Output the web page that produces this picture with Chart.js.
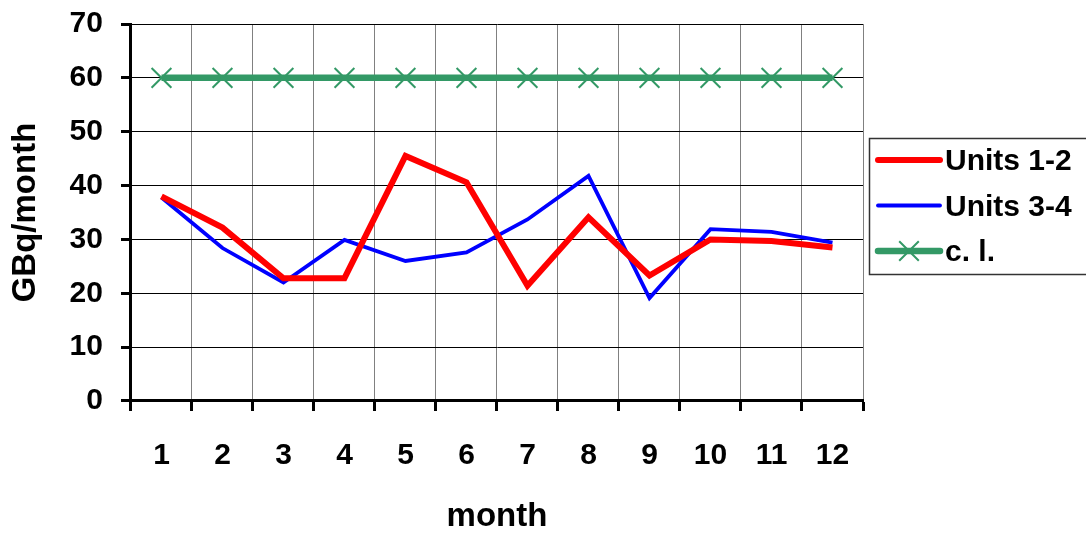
<!DOCTYPE html>
<html lang="en">
<head>
    <meta charset="UTF-8">
    <title>GBq/month</title>
    <script src="https://cdn.jsdelivr.net/npm/chart.js"></script>
    <style>
        html, body { margin: 0; padding: 0; background: #fff; }
        .chart-container { width: 1086px; height: 533px; }
    </style>
</head>
<body>
    <div class="chart-container">
        <canvas id="myChart"></canvas>
    </div>

    <script>
        // datos
        const months = ['1', '2', '3', '4', '5', '6', '7', '8', '9', '10', '11', '12'];
        const units12 = [38.0, 32.2, 22.8, 22.8, 45.5, 40.6, 21.4, 34.1, 23.3, 30.0, 29.7, 28.5];
        const units34 = [37.8, 28.4, 22.0, 29.9, 26.0, 27.6, 33.7, 41.8, 19.1, 31.9, 31.4, 29.4];
        const limit = [60, 60, 60, 60, 60, 60, 60, 60, 60, 60, 60, 60];
        const yTicks = [0, 10, 20, 30, 40, 50, 60, 70];

        const fontFamily = '"Liberation Sans", Arial, sans-serif';

        // leyenda con recuadro, dibujada a mano a la derecha
        const boxLegend = {
            id: 'boxLegend',
            afterDraw(chart) {
                const ctx = chart.ctx;
                const left = chart.chartArea.right + 6;
                const top = 138;
                ctx.save();
                ctx.strokeStyle = '#333';
                ctx.lineWidth = 1.5;
                ctx.strokeRect(left + 0.5, top + 0.5, 240, 136);
                ctx.font = 'bold 30px ' + fontFamily;
                ctx.textBaseline = 'middle';
                ctx.fillStyle = '#000';
                chart.data.datasets.forEach((ds, i) => {
                    const y = top + 22 + i * 45.5;
                    ctx.beginPath();
                    ctx.strokeStyle = ds.borderColor;
                    ctx.lineWidth = ds.borderWidth;
                    ctx.lineCap = 'round';
                    ctx.moveTo(left + 9, y);
                    ctx.lineTo(left + 71, y);
                    ctx.stroke();
                    if (ds.pointRadius > 0) {
                        const r = ds.pointRadius * 0.7;
                        const cx = left + 40;
                        ctx.lineWidth = ds.pointBorderWidth;
                        ctx.lineCap = 'butt';
                        ctx.beginPath();
                        ctx.moveTo(cx - r, y - r); ctx.lineTo(cx + r, y + r);
                        ctx.moveTo(cx - r, y + r); ctx.lineTo(cx + r, y - r);
                        ctx.stroke();
                    }
                    ctx.fillText(ds.label, left + 76, y + 2);
                });
                ctx.restore();
            }
        };

        const chartData = {
            labels: months,
            datasets: [{
                label: 'Units 1-2',
                data: units12,
                borderColor: '#ff0000',
                backgroundColor: '#ff0000',
                borderWidth: 6,
                pointRadius: 0,
                tension: 0
            }, {
                label: 'Units 3-4',
                data: units34,
                borderColor: '#0000ff',
                backgroundColor: '#0000ff',
                borderWidth: 3.8,
                pointRadius: 0,
                tension: 0
            }, {
                label: 'c. l.',
                data: limit,
                borderColor: '#339966',
                backgroundColor: '#339966',
                borderWidth: 6.5,
                pointStyle: 'crossRot',
                pointRadius: 14,
                pointBorderWidth: 2,
                pointBorderColor: '#339966',
                tension: 0
            }]
        };

        const chartConfig = {
            type: 'line',
            data: chartData,
            plugins: [boxLegend],
            options: {
                responsive: true,
                maintainAspectRatio: false,
                animation: false,
                layout: {
                    padding: { left: 6, right: 223, top: 0, bottom: 0 }
                },
                plugins: {
                    legend: { display: false },
                    tooltip: { enabled: false }
                },
                scales: {
                    x: {
                        offset: true,
                        grid: {
                            offset: true,
                            color: '#808080',
                            lineWidth: 1,
                            tickColor: '#000',
                            tickWidth: 3,
                            tickLength: 10
                        },
                        border: { color: '#000', width: 3 },
                        ticks: {
                            color: '#000',
                            padding: 27,
                            maxRotation: 0,
                            font: { family: fontFamily, size: 30, weight: 'bold' }
                        },
                        title: {
                            display: true,
                            text: 'month',
                            color: '#000',
                            padding: { top: 0, bottom: 0 },
                            font: { family: fontFamily, size: 33, weight: 'bold', lineHeight: 0.97 }
                        }
                    },
                    y: {
                        min: 0,
                        max: 70,
                        afterBuildTicks: axis => {
                            axis.ticks = yTicks.map(v => ({ value: v }));
                        },
                        grid: {
                            color: '#000',
                            lineWidth: 1,
                            tickColor: '#000',
                            tickWidth: 3,
                            tickLength: 10
                        },
                        border: { color: '#000', width: 3 },
                        ticks: {
                            color: '#000',
                            padding: 18,
                            font: { family: fontFamily, size: 30, weight: 'bold', lineHeight: 0.4 }
                        },
                        title: {
                            display: true,
                            text: 'GBq/month',
                            color: '#000',
                            padding: { top: 0, bottom: 6 },
                            font: { family: fontFamily, size: 33, weight: 'bold', lineHeight: 1.2 }
                        }
                    }
                }
            }
        };

        const myChart = new Chart(document.getElementById('myChart'), chartConfig);
    </script>
</body>
</html>
